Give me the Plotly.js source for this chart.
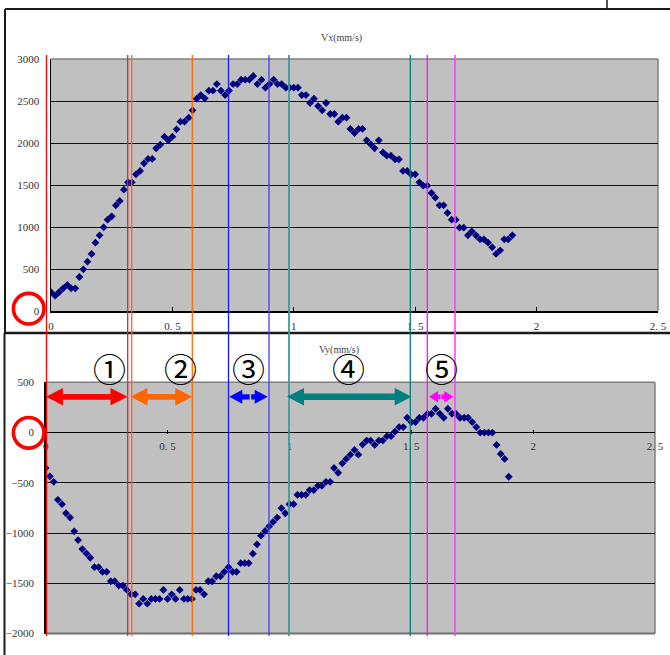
<!DOCTYPE html>
<html>
<head>
<meta charset="utf-8">
<script src="https://cdn.plot.ly/plotly-3.0.1.min.js"></script>
<style>html,body{margin:0;padding:0;background:#fff;}#chart{width:670px;height:655px;}</style>
</head>
<body>
<div id="chart"></div>
<script>
// ---- data (time in seconds, velocities in mm/s) ----
const timeS = [
0,0.017,0.033,0.05,0.067,0.083,0.1,0.117,0.133,0.15,
0.167,0.183,0.2,0.217,0.233,0.25,0.267,0.283,0.3,0.317,
0.333,0.35,0.367,0.383,0.4,0.417,0.433,0.45,0.467,0.483,
0.5,0.517,0.533,0.55,0.567,0.583,0.6,0.617,0.633,0.65,
0.667,0.683,0.7,0.717,0.733,0.75,0.767,0.783,0.8,0.817,
0.833,0.85,0.867,0.883,0.9,0.917,0.933,0.95,0.967,0.983,
1,1.017,1.033,1.05,1.067,1.083,1.1,1.117,1.133,1.15,
1.167,1.183,1.2,1.217,1.233,1.25,1.267,1.283,1.3,1.317,
1.333,1.35,1.367,1.383,1.4,1.417,1.433,1.45,1.467,1.483,
1.5,1.517,1.533,1.55,1.567,1.583,1.6,1.617,1.633,1.65,
1.667,1.683,1.7,1.717,1.733,1.75,1.767,1.783,1.8,1.817,
1.833,1.85,1.867,1.883,1.9];

const vx = [
223,182,223,270,310,270,270,405,496,587,
679,813,901,996,1087,1127,1258,1310,1444,1532,
1532,1627,1667,1758,1810,1810,1937,1980,2075,2032,
2075,2163,2254,2254,2302,2389,2528,2571,2532,2623,
2623,2702,2623,2571,2623,2702,2702,2754,2754,2754,
2798,2702,2754,2659,2702,2754,2702,2702,2659,2659,
2659,2659,2571,2571,2476,2528,2440,2389,2476,2345,
2345,2254,2302,2302,2167,2119,2167,2167,2032,1984,
1937,2032,1889,1849,1849,1806,1806,1667,1667,1627,
1627,1532,1492,1492,1405,1349,1258,1258,1167,1087,
1087,992,992,901,949,901,853,853,813,758,
679,722,853,853,901];

const vy = [
-353,-436,-490,-670,-713,-803,-846,-983,-1070,-1160,
-1203,-1246,-1340,-1340,-1386,-1386,-1480,-1480,-1523,-1523,
-1566,-1610,-1610,-1703,-1656,-1703,-1656,-1656,-1656,-1566,
-1656,-1610,-1656,-1566,-1656,-1656,-1656,-1566,-1566,-1610,
-1480,-1480,-1430,-1430,-1386,-1340,-1386,-1386,-1300,-1300,
-1300,-1206,-1113,-1026,-980,-933,-890,-846,-753,-803,
-713,-713,-620,-620,-620,-573,-573,-530,-530,-490,
-490,-353,-400,-306,-263,-220,-173,-220,-120,-80,
-80,-123,-80,-80,-36,-36,10,54,54,147,
104,104,147,147,187,187,237,187,147,237,
187,187,147,147,147,104,54,0,0,0,
0,-123,-213,-263,-440];

const xTickVals = [0,0.5,1,1.5,2,2.5];
const xTickText = ['0','0. 5','1','1. 5','2','2. 5'];
const vxTickVals = [0,500,1000,1500,2000,2500,3000];
const vyTickVals = [-2000,-1500,-1000,-500,0,500];
const vyTickText = ['\u22122000','\u22121500','\u22121000','\u2212500','0','500'];
const phaseLabels = ['\u2460','\u2461','\u2462','\u2463','\u2464'];
const titleVx = 'Vx(mm/s)';
const titleVy = 'Vy(mm/s)';

// ---- pixel -> paper helpers ----
const W = 670, H = 655;
const P = x => x / W;
const Q = y => 1 - y / H;

const markerStyle = {symbol:'diamond', size:6, color:'#000080', line:{width:0}};
const traces = [
  {x:timeS, y:vx, xaxis:'x', yaxis:'y', type:'scatter', mode:'markers', marker:markerStyle, hoverinfo:'skip'},
  {x:timeS, y:vy, xaxis:'x2', yaxis:'y2', type:'scatter', mode:'markers', marker:markerStyle, hoverinfo:'skip'}
];

const tickFont = {family:'Liberation Serif, DejaVu Serif, serif', size:11, color:'#333'};

const shapes = [];
function line(x0,y0,x1,y1,color,width,layer){
  shapes.push({type:'line', xref:'paper', yref:'paper', x0:P(x0), y0:Q(y0), x1:P(x1), y1:Q(y1),
    line:{color:color, width:width}, layer:layer||'above'});
}
function pathShape(d,color){
  shapes.push({type:'path', xref:'paper', yref:'paper', path:d, fillcolor:color, line:{width:0}, layer:'above'});
}
function pt(x,y){ return P(x).toFixed(5)+','+Q(y).toFixed(5); }
function dblArrow(x1,x2,yc,h,Hh,s,color){
  const d = 'M'+pt(x1,yc)+' L'+pt(x1+h,yc-Hh)+' L'+pt(x1+h,yc-s)+' L'+pt(x2-h,yc-s)+' L'+pt(x2-h,yc-Hh)+
    ' L'+pt(x2,yc)+' L'+pt(x2-h,yc+Hh)+' L'+pt(x2-h,yc+s)+' L'+pt(x1+h,yc+s)+' L'+pt(x1+h,yc+Hh)+' Z';
  pathShape(d,color);
}
function oneArrow(tip,base,yc,h,Hh,s,color){
  const dir = base > tip ? 1 : -1;
  const hb = tip + dir*h;
  const d = 'M'+pt(tip,yc)+' L'+pt(hb,yc-Hh)+' L'+pt(hb,yc-s)+' L'+pt(base,yc-s)+' L'+pt(base,yc+s)+
    ' L'+pt(hb,yc+s)+' L'+pt(hb,yc+Hh)+' Z';
  pathShape(d,color);
}

// chart frames
line(5,9,670,9,'#1a1a1a',2);
line(607,0,607,9,'#1a1a1a',1.5);
line(5,9,5,333,'#1a1a1a',2);
line(4,333,670,333,'#1a1a1a',2.5);
line(4.5,333,4.5,655,'#1a1a1a',2);

// plot-area borders (grey)
line(51,59,658,59,'#808080',1.5,'below');
line(658,59,658,311,'#808080',1.5,'below');
line(45.7,382.3,655,382.3,'#808080',1.5,'below');
line(655,382.3,655,633.5,'#808080',1.5,'below');
line(45.7,633.5,655,633.5,'#707070',2,'below');

// phase boundary lines
const vTop = 55, vBot = 636;
line(46.5,vTop,46.5,vBot,'#ff0000',1.3);
line(127.7,vTop,127.7,vBot,'#ff1a1a',1.3);
line(131.7,vTop,131.7,vBot,'#ff6a00',1.3);
line(192.3,vTop,192.3,vBot,'#ff6a00',1.3);
line(228.5,vTop,228.5,vBot,'#1a1aff',1.3);
line(269,vTop,269,vBot,'#4040ff',1.3);
line(289,vTop,289,vBot,'#3a9c9c',1.8);
line(410.3,vTop,410.3,vBot,'#008080',1.3);
line(427.3,vTop,427.3,vBot,'#ff10ff',1.3);
line(455,vTop,455,vBot,'#ff40ff',1.6);

// arrows
const ay = 396.8;
dblArrow(46,127.5,ay,17,8.8,2.9,'#ff0000');
dblArrow(130.5,192.3,ay,17,8.8,2.9,'#ff6600');
oneArrow(229.3,249.6,ay,13,7,2.6,'#0000ff');
oneArrow(267.7,251.2,ay,13,7,2.6,'#0000ff');
dblArrow(287,411.7,ay,17,8.8,3.3,'#008080');
oneArrow(429,440.6,ay,9,5.8,2.2,'#ff00ff');
oneArrow(453.3,441.6,ay,9,5.8,2.2,'#ff00ff');

// red circles around zeros
function ring(cx,cy,r){
  shapes.push({type:'circle', xref:'paper', yref:'paper', x0:P(cx-r), x1:P(cx+r), y0:Q(cy+r), y1:Q(cy-r),
    line:{color:'#ff0000', width:3.6}, layer:'above'});
}
ring(28.7,308.7,15.3);
ring(28.7,432.8,15.3);

const annotations = [
  {text:titleVx, x:P(341), y:Q(30), xref:'paper', yref:'paper', showarrow:false, font:{family:'Liberation Serif, serif', size:10, color:'#444'}},
  {text:titleVy, x:P(339), y:Q(350), xref:'paper', yref:'paper', showarrow:false, font:{family:'Liberation Serif, serif', size:10, color:'#444'}}
];
const labelX = [90.5,161.7,248,348.3,441.7];
phaseLabels.forEach((s,i)=>{
  annotations.push({text:s, x:P(labelX[i]), y:Q(367.5), xref:'paper', yref:'paper', showarrow:false,
    font:{family:'Noto Sans CJK JP', size:33, color:'#000'}});
});

const layout = {
  width:W, height:H, margin:{l:0,r:0,t:0,b:0},
  paper_bgcolor:'#ffffff', plot_bgcolor:'#c0c0c0', showlegend:false,
  font:tickFont,
  xaxis:{domain:[P(51),P(658)], range:[0,2.5], tickvals:xTickVals, ticktext:xTickText,
    ticks:'inside', ticklen:4, tickcolor:'#000', showgrid:false, zeroline:false,
    showline:true, linecolor:'#000', linewidth:1.5, anchor:'y', tickfont:tickFont, ticklabelstandoff:4, fixedrange:true},
  yaxis:{domain:[Q(311),Q(59)], range:[0,3000], tickvals:vxTickVals, ticks:'', showgrid:true,
    gridcolor:'#111', gridwidth:1, zeroline:false, showline:true, linecolor:'#000', linewidth:1.5,
    anchor:'x', tickfont:tickFont, ticklabelstandoff:8, fixedrange:true},
  xaxis2:{domain:[P(45.7),P(655)], range:[0,2.5], tickvals:xTickVals, ticktext:xTickText,
    ticks:'inside', ticklen:4, tickcolor:'#000', showgrid:false, zeroline:false, showline:false,
    anchor:'free', position:Q(433.7), tickfont:tickFont, ticklabelstandoff:4, fixedrange:true},
  yaxis2:{domain:[Q(633.5),Q(382.3)], range:[-2000,500], tickvals:vyTickVals, ticktext:vyTickText,
    ticks:'', showgrid:true, gridcolor:'#111', gridwidth:1, zeroline:true, zerolinecolor:'#000', zerolinewidth:1.3,
    showline:true, linecolor:'#000', linewidth:1.5, anchor:'x2', tickfont:tickFont, ticklabelstandoff:8, fixedrange:true},
  shapes:shapes,
  annotations:annotations
};

Plotly.newPlot('chart', traces, layout, {displayModeBar:false, staticPlot:true});
</script>
</body>
</html>
